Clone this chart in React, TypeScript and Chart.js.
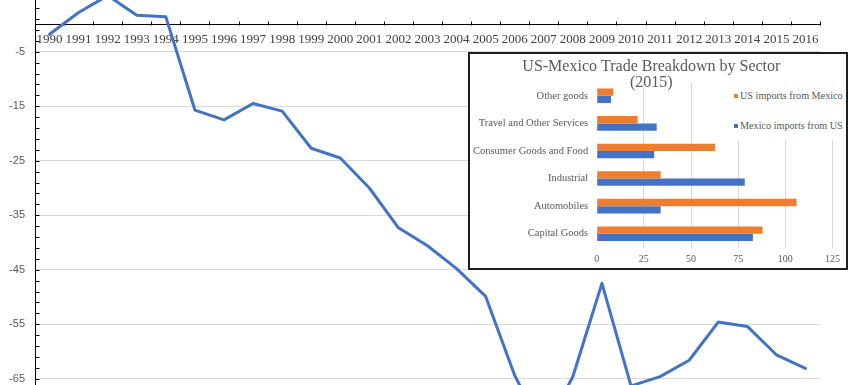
import React, { useEffect, useRef } from "react";
import { Chart, registerables } from "chart.js";

Chart.register(...registerables);

// ---------- main chart data ----------
const years = [
  "1990", "1991", "1992", "1993", "1994", "1995", "1996", "1997", "1998",
  "1999", "2000", "2001", "2002", "2003", "2004", "2005", "2006", "2007",
  "2008", "2009", "2010", "2011", "2012", "2013", "2014", "2015", "2016",
];
const tradeBalance = [
  -1.8, 2.2, 5.3, 1.7, 1.4, -15.7, -17.5, -14.5, -15.9,
  -22.7, -24.5, -30.0, -37.3, -40.6, -44.8, -49.9, -64.4, -74.8,
  -64.6, -47.5, -66.3, -64.6, -61.6, -54.6, -55.4, -60.6, -63.1,
];
const yMajorTicks = [5, -5, -15, -25, -35, -45, -55, -65, -75];
const yMinorStep = 2;
const yAxisMin = -80;
const yAxisMax = 8;

// ---------- inset chart data ----------
const sectors = [
  "Other goods",
  "Travel and Other Services",
  "Consumer Goods and Food",
  "Industrial",
  "Automobiles",
  "Capital Goods",
];
const usImportsFromMexico = [8.8, 21.7, 62.7, 33.9, 105.9, 87.9];
const mexicoImportsFromUS = [7.6, 31.8, 30.5, 78.5, 33.9, 82.8];
const insetTitle = ["US-Mexico Trade Breakdown by Sector", "(2015)"];
const seriesNames = ["US imports from Mexico", "Mexico imports from US"];
const insetMax = 125;
const insetStep = 25;

const BLUE = "#4472C4";
const ORANGE = "#ED7D31";

const axisMarks = {
  id: "axisMarks",
  beforeDatasetsDraw(chart: any) {
    const { ctx, scales } = chart;
    const x = scales.x;
    const y = scales.y;
    ctx.save();
    ctx.strokeStyle = "#000";
    ctx.lineWidth = 1;
    // x-axis tick marks (upward, at category boundaries)
    const y0 = Math.round(y.getPixelForValue(0)) + 0.5;
    const n = years.length;
    const spacing = (x.right - x.left) / n;
    ctx.beginPath();
    for (let i = 0; i <= n; i++) {
      const px = Math.round(x.left + i * spacing) + 0.5;
      ctx.moveTo(px, y0);
      ctx.lineTo(px, y0 - 4);
    }
    // y-axis tick marks (inward, every minor step)
    const left = Math.round(chart.chartArea.left) + 0.5;
    for (let v = yMajorTicks[0]; v >= yMajorTicks[yMajorTicks.length - 1]; v -= yMinorStep) {
      const py = Math.round(y.getPixelForValue(v)) + 0.5;
      ctx.moveTo(left, py);
      ctx.lineTo(left + 4, py);
    }
    ctx.stroke();
    ctx.restore();
  },
};

function MainChart() {
  const ref = useRef<HTMLCanvasElement | null>(null);
  useEffect(() => {
    if (!ref.current) return;
    const chart = new Chart(ref.current, {
      type: "line",
      data: {
        labels: years,
        datasets: [
          {
            data: tradeBalance,
            borderColor: BLUE,
            borderWidth: 3,
            pointRadius: 0,
            tension: 0,
            fill: false,
            borderJoinStyle: "round",
            borderCapStyle: "round",
          },
        ],
      },
      options: {
        responsive: false,
        animation: false,
        devicePixelRatio: 1,
        layout: { padding: { top: 20.9, right: 44, bottom: 59.5, left: 0 } },
        plugins: { legend: { display: false }, tooltip: { enabled: false }, title: { display: false } },
        scales: {
          x: {
            type: "category",
            position: { y: 0 } as any,
            offset: true,
            afterFit: (s: any) => {
              s.height = 0;
            },
            grid: { display: false, drawTicks: false },
            border: { display: true, color: "#000", width: 1 },
            ticks: {
              color: "#404040",
              font: { family: "Liberation Serif", size: 13 },
              padding: 7.5,
              maxRotation: 0,
              minRotation: 0,
              autoSkip: false,
            },
          },
          y: {
            min: yAxisMin,
            max: yAxisMax,
            afterBuildTicks: (s: any) => {
              s.ticks = yMajorTicks.map((v) => ({ value: v }));
            },
            afterFit: (s: any) => {
              s.width = 35;
            },
            grid: { color: "#d9d9d9", drawTicks: false, lineWidth: 1 },
            border: { display: true, color: "#000", width: 1 },
            ticks: {
              color: "#595959",
              font: { family: "Liberation Sans", size: 11 },
              padding: 10,
              callback: (v: any) => String(v),
            },
          },
        },
      },
      plugins: [axisMarks],
    });
    return () => chart.destroy();
  }, []);
  return (
    <canvas
      ref={ref}
      width={864}
      height={560}
      style={{ position: "absolute", left: 0, top: -40, width: 864, height: 560 }}
    />
  );
}

function InsetChart() {
  const ref = useRef<HTMLCanvasElement | null>(null);
  useEffect(() => {
    if (!ref.current) return;
    const chart = new Chart(ref.current, {
      type: "bar",
      data: {
        labels: sectors,
        datasets: [
          { label: seriesNames[0], data: usImportsFromMexico, backgroundColor: ORANGE },
          { label: seriesNames[1], data: mexicoImportsFromUS, backgroundColor: BLUE },
        ],
      },
      options: {
        indexAxis: "y",
        responsive: false,
        animation: false,
        devicePixelRatio: 1,
        layout: { padding: { top: 0, right: 13.3, bottom: 0, left: 0 } },
        datasets: { bar: { categoryPercentage: 0.53, barPercentage: 1.0 } },
        plugins: {
          legend: { display: false },
          tooltip: { enabled: false },
          title: {
            display: true,
            text: insetTitle,
            color: "#595959",
            font: { family: "Liberation Serif", size: 16, weight: "normal", lineHeight: 1 },
            padding: { top: 5, bottom: -9 },
          },
        },
        scales: {
          x: {
            min: 0,
            max: insetMax,
            afterFit: (s: any) => {
              s.height = 20.5;
            },
            ticks: {
              stepSize: insetStep,
              color: "#595959",
              font: { family: "Liberation Serif", size: 10 },
              padding: 6,
            },
            grid: {
              drawTicks: false,
              color: (c: any) => (c.tick && c.tick.value === 0 ? "rgba(0,0,0,0)" : "#d9d9d9"),
            },
            border: { display: false },
          },
          y: {
            afterFit: (s: any) => {
              s.width = 126.7;
            },
            grid: { display: false, drawTicks: false },
            border: { display: false },
            ticks: {
              color: "#595959",
              font: { family: "Liberation Serif", size: 10.5 },
              padding: 8.5,
              autoSkip: false,
            },
          },
        },
      },
    });
    return () => chart.destroy();
  }, []);

  const legendRow = (name: string, color: string, top: number) => (
    <div
      key={name}
      style={{
        position: "absolute",
        left: 1,
        top,
        height: 14,
        display: "flex",
        alignItems: "center",
        whiteSpace: "nowrap",
      }}
    >
      <span style={{ width: 4, height: 4, background: color, display: "inline-block", marginRight: 2 }} />
      <span style={{ font: "10.2px 'Liberation Serif'", color: "#595959", lineHeight: "14px" }}>{name}</span>
    </div>
  );

  return (
    <div
      style={{
        position: "absolute",
        left: 468,
        top: 52,
        width: 380,
        height: 218,
        boxSizing: "border-box",
        border: "2px solid #1f1f1f",
        background: "#fff",
      }}
    >
      <canvas ref={ref} width={376} height={214} style={{ position: "absolute", left: 0, top: 0, width: 376, height: 214 }} />
      <div style={{ position: "absolute", left: 263, top: 29, width: 113, height: 57, background: "#fff" }}>
        {legendRow(seriesNames[0], ORANGE, 6)}
        {legendRow(seriesNames[1], BLUE, 36)}
      </div>
    </div>
  );
}

export default function App() {
  return (
    <div
      style={{
        position: "absolute",
        left: 0,
        top: 0,
        width: 864,
        height: 385,
        overflow: "hidden",
        background: "#fff",
      }}
    >
      <MainChart />
      <InsetChart />
    </div>
  );
}
